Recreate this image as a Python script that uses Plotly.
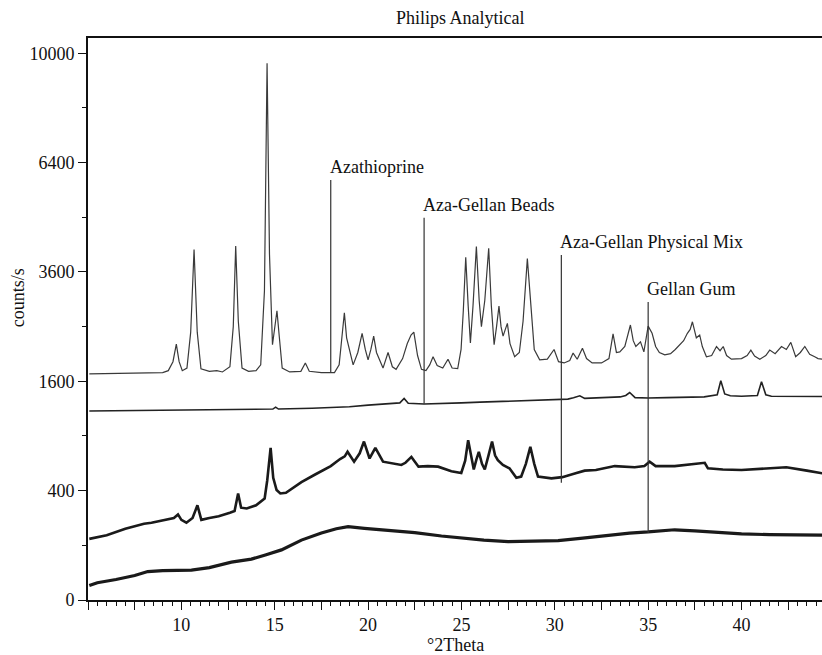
import numpy as np
import plotly.graph_objects as go

# ---------------- data ----------------
aza_2theta = [5.07, 7.0, 9.0, 9.3, 9.55, 9.73, 9.88, 10.05, 10.3, 10.5, 10.68, 10.85, 11.05, 11.5, 11.9, 12.2,
              12.6, 12.78, 12.91, 13.05, 13.25, 13.6, 14.0, 14.25, 14.45, 14.59, 14.72, 14.88, 15.0, 15.12,
              15.25, 15.4, 15.8, 16.4, 16.64, 16.85, 17.5, 18.2, 18.45, 18.6, 18.73, 18.85, 19.2, 19.45,
              19.68, 19.85, 20.0, 20.15, 20.3, 20.45, 20.8, 21.07, 21.3, 21.5, 21.85, 22.1, 22.3, 22.45,
              22.65, 22.86, 23.1, 23.3, 23.48, 23.7, 24.0, 24.28, 24.5, 24.8, 24.98, 25.1, 25.23, 25.36,
              25.48, 25.62, 25.8, 25.95, 26.07, 26.25, 26.46, 26.6, 26.75, 26.88, 27.01, 27.12, 27.23,
              27.35, 27.46, 27.6, 27.85, 28.1, 28.3, 28.53, 28.7, 28.9, 29.19, 29.6, 29.96, 30.2, 30.5,
              30.8, 30.98, 31.2, 31.48, 31.7, 32.0, 32.5, 32.9, 33.12, 33.3, 33.48, 33.75, 34.05, 34.2,
              34.34, 34.59, 34.77, 35.0, 35.21, 35.4, 35.6, 35.89, 36.2, 36.45, 36.69, 36.9, 37.1, 37.25,
              37.37, 37.5, 37.58, 37.76, 37.9, 38.12, 38.4, 38.66, 38.85, 39.02, 39.2, 39.46, 40.0, 40.3,
              40.5, 40.7, 40.98, 41.3, 41.51, 41.8, 42.14, 42.4, 42.64, 42.9, 43.15, 43.39, 43.65, 43.92,
              44.1, 44.4]
aza_counts = [1710, 1715, 1730, 1760, 1900, 2190, 1900, 1760, 1800, 2400, 4110, 2400, 1790, 1750, 1760, 1740,
              1820, 2500, 4190, 2600, 1800, 1750, 1760, 1850, 3200, 9640, 4000, 2180, 2500, 2800,
              2300, 1800, 1740, 1750, 1880, 1750, 1730, 1730, 1850, 2300, 2760, 2300, 1850, 2050,
              2380, 2100, 1930, 2100, 2330, 2050, 1800, 2050, 1820, 1780, 1950, 2200, 2350, 2400,
              2000, 1780, 1760, 1850, 1980, 1840, 1800, 1940, 1800, 1790, 2100, 2800, 3930, 2900,
              2210, 2900, 4180, 3000, 2500, 3000, 4140, 2900, 2180, 2500, 2890, 2500, 2330,
              2450, 2560, 2200, 1980, 2050, 2600, 3900, 3000, 2100, 1930, 1940, 2100, 1900, 1880,
              1920, 2040, 1940, 2120, 1950, 1880, 1880, 1950, 2370, 2050, 2060, 2150, 2530, 2250,
              2150, 2230, 2060, 2510, 2380, 2150, 2050, 2010, 2030, 2100, 2180, 2250, 2380, 2450,
              2590, 2400, 2300, 2350, 2150, 1980, 2000, 2150, 2080, 2150, 2000, 1940, 1950, 2000,
              2090, 1990, 1940, 2000, 2090, 2030, 2150, 2100, 2220, 1980, 2050, 2150, 2020, 1980,
              1950, 1940]

beads_2theta = [5.07, 8, 10, 12, 14, 14.9, 15.05, 15.2, 17, 19, 20, 21, 21.7, 21.93, 22.15, 23, 24, 25, 26,
                27, 28, 29.1, 30, 30.7, 31.0, 31.34, 31.6, 32.5, 33.5, 33.8, 34.01, 34.3, 35, 36, 37, 38.0,
                38.7, 38.89, 39.1, 39.4, 40, 40.85, 41.07, 41.3, 41.6, 43, 44.4]
beads_counts = [1195, 1200, 1205, 1210, 1215, 1220, 1245, 1220, 1230, 1250, 1270, 1290, 1300, 1360, 1295,
                1285, 1290, 1300, 1310, 1320, 1325, 1335, 1345, 1350, 1370, 1395, 1360, 1370, 1380, 1400,
                1440, 1370, 1365, 1370, 1375, 1380, 1410, 1610, 1420, 1395, 1390, 1400, 1595, 1410, 1390,
                1385, 1385]

mix_2theta = [5.07, 6.0, 7.0, 8.0, 8.4, 9.1, 9.6, 9.82, 10.0, 10.27, 10.6, 10.86, 11.07, 11.5, 12.0, 12.6,
              12.85, 13.04, 13.2, 13.5, 14.0, 14.46, 14.6, 14.78, 14.92, 15.1, 15.3, 15.6, 16.0, 16.43,
              17.14, 18.0, 18.5, 18.75, 18.9, 19.25, 19.55, 19.78, 20.08, 20.39, 20.8, 21.3, 21.78, 22.0,
              22.32, 22.7, 23.2, 23.75, 24.46, 24.99, 25.2, 25.36, 25.5, 25.66, 25.8, 25.93, 26.1, 26.25,
              26.45, 26.64, 26.8, 26.95, 27.22, 27.57, 27.94, 28.2, 28.45, 28.69, 28.9, 29.1, 29.82,
              30.4, 31.07, 31.6, 32.2, 33.21, 34.28, 34.8, 35.08, 35.4, 36.42, 37.2, 38.03, 38.2, 39.0,
              40.0, 41.0, 42.4, 43.5, 44.4]
mix_counts = [125, 140, 170, 195, 200, 215, 225, 245, 215, 200, 225, 300, 215, 225, 235, 255,
              265, 380, 285, 280, 300, 345, 480, 775, 500, 405, 380, 385, 420, 465,
              525, 600, 665, 690, 735, 640, 720, 840, 670, 775, 640, 625, 610, 630,
              685, 595, 600, 595, 555, 540, 650, 855, 700, 570, 660, 735, 620, 570,
              700, 840, 700, 655, 610, 580, 500, 510, 620, 785, 620, 510, 495,
              505, 535, 560, 565, 600, 590, 600, 640, 600, 600, 615, 630, 580, 570,
              565, 575, 590, 560, 535]

gum_2theta = [5.07, 5.5, 6.5, 7.5, 8.2, 9.0, 10.54, 11.5, 12.68, 13.75, 14.5, 15.36, 16.43, 17.5, 18.3,
              18.93, 19.8, 20.71, 21.6, 22.5, 23.93, 25.0, 26.2, 27.5, 28.8, 30.18, 31.5, 32.86, 34.0,
              35.0, 36.42, 37.5, 38.5, 40.0, 41.5, 43.0, 44.4]
gum_counts = [7, 10, 14, 20, 27, 29, 30, 35, 48, 56, 68, 84, 120, 150, 170,
              180, 172, 165, 158, 152, 137, 128, 120, 114, 115, 118, 128, 141, 150,
              155, 165, 160, 153, 146, 143, 142, 141]

label_names = ["Azathioprine", "Aza-Gellan Beads", "Aza-Gellan Physical Mix", "Gellan Gum"]
label_2theta = [18.0, 23.0, 30.35, 35.0]
label_bottom = [1740, 1290, 460, 150]
label_top = [5900, 4890, 3980, 2970]

y_tick_counts = [0, 400, 1600, 3600, 6400, 10000]
y_minor_counts = [100, 900, 2500, 4900, 8100]
x_tick_labels = [10, 15, 20, 25, 30, 35, 40]

# ---------------- figure ----------------
FONT = "Liberation Serif, Times New Roman, serif"
fig = go.Figure()

def sq(v):
    return np.sqrt(np.asarray(v, dtype=float))

fig.add_trace(go.Scatter(x=gum_2theta, y=sq(gum_counts), mode="lines",
                         line=dict(color="#1a1a1a", width=3.2), showlegend=False))
fig.add_trace(go.Scatter(x=mix_2theta, y=sq(mix_counts), mode="lines",
                         line=dict(color="#1a1a1a", width=2.6), showlegend=False))
fig.add_trace(go.Scatter(x=beads_2theta, y=sq(beads_counts), mode="lines",
                         line=dict(color="#222222", width=1.6), showlegend=False))
fig.add_trace(go.Scatter(x=aza_2theta, y=sq(aza_counts), mode="lines",
                         line=dict(color="#3a3a3a", width=1.2), showlegend=False))

# pointer lines for the labels
vx, vy = [], []
for xv, b, t in zip(label_2theta, label_bottom, label_top):
    vx += [xv, xv, None]
    vy += [float(np.sqrt(b)), float(np.sqrt(t)), None]
fig.add_trace(go.Scatter(x=vx, y=vy, mode="lines", line=dict(color="#333333", width=1.2),
                         showlegend=False))

for name, xv, t in zip(label_names, label_2theta, label_top):
    fig.add_annotation(x=xv, y=float(np.sqrt(t)), text=name, showarrow=False,
                       xanchor="left", yanchor="bottom", yshift=1, xshift=-3,
                       font=dict(family=FONT, size=18, color="#111"))

# axis titles
fig.add_annotation(x=0.5, y=0, xref="paper", yref="paper", text="°2Theta", showarrow=False,
                   xanchor="center", yanchor="middle", yshift=-45,
                   font=dict(family=FONT, size=18, color="#111"))
fig.add_annotation(x=0, y=0.537, xref="paper", yref="paper", text="counts/s", showarrow=False,
                   textangle=-90, xanchor="center", yanchor="middle", xshift=-70,
                   font=dict(family=FONT, size=18, color="#111"))

xt = list(np.arange(5, 44.5, 2.5))
xtt = [str(int(v)) if (v in x_tick_labels) else "" for v in xt]

fig.update_xaxes(range=[5.0, 44.31], showgrid=False, zeroline=False,
                 showline=True, linecolor="#111", linewidth=1.6, mirror=True,
                 ticks="outside", ticklen=8, tickwidth=1.3, tickcolor="#111",
                 tickvals=xt, ticktext=xtt,
                 tickfont=dict(family=FONT, size=18, color="#111"),
                 minor=dict(dtick=0.5, tick0=5, ticks="outside", ticklen=4, tickwidth=1.2,
                            tickcolor="#111", showgrid=False))
fig.update_yaxes(range=[0, 102.8], showgrid=False, zeroline=False,
                 showline=True, linecolor="#111", linewidth=1.6,
                 ticks="outside", ticklen=8, tickwidth=1.4, tickcolor="#111",
                 tickvals=[float(np.sqrt(v)) for v in y_tick_counts],
                 ticktext=[str(v) for v in y_tick_counts],
                 tickfont=dict(family=FONT, size=18, color="#111"),
                 minor=dict(tickvals=[float(np.sqrt(v)) for v in y_minor_counts],
                            ticks="outside", ticklen=4, tickwidth=1.2, tickcolor="#111",
                            showgrid=False))

fig.update_layout(
    width=822, height=655,
    margin=dict(l=88, r=0, t=38, b=55),
    paper_bgcolor="white", plot_bgcolor="white",
    title=dict(text="Philips Analytical", x=0.56, xanchor="center", y=1 - 18 / 655,
               yanchor="middle", font=dict(family=FONT, size=18, color="#111")),
    showlegend=False,
)

fig.write_html("out.html")
